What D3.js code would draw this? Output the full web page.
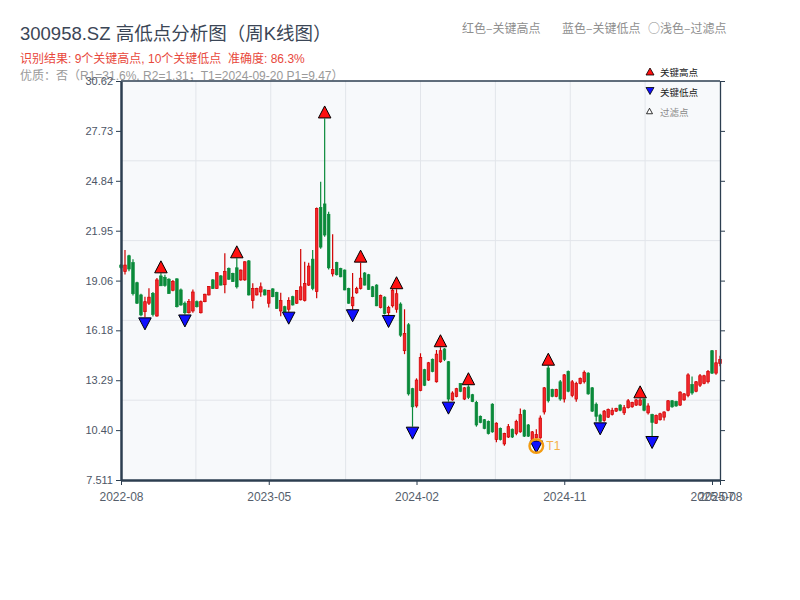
<!DOCTYPE html>
<html><head><meta charset="utf-8">
<script src="https://cdn.jsdelivr.net/npm/d3@7"></script>
<style>
html,body{margin:0;padding:0;background:#fff;}
svg{display:block;font-family:"Liberation Sans","Noto Sans CJK SC",sans-serif;}
text{white-space:pre;}
</style></head>
<body><svg id="c" width="800" height="600"></svg>
<script>
// ---- data ----
const opens = [19.96,19.58,20.50,20.10,18.94,18.23,17.26,17.75,18.32,17.01,19.33,19.25,19.14,18.50,19.16,18.52,17.75,17.20,17.30,17.84,17.20,17.84,18.23,19.10,18.61,19.33,18.82,19.77,19.48,19.80,19.10,19.10,20.20,17.90,18.23,18.40,18.52,17.75,18.58,18.38,17.30,17.55,17.40,18.13,17.75,17.95,17.90,18.80,20.30,18.42,23.30,23.50,22.90,19.45,20.10,19.76,19.67,18.60,17.60,18.35,18.60,19.50,19.40,18.70,18.80,17.50,18.10,17.20,17.60,17.40,17.70,15.00,16.50,12.80,11.80,12.70,13.90,13.30,14.50,13.20,14.36,15.10,14.36,12.15,12.35,13.10,12.20,12.90,12.45,12.00,11.20,11.00,10.90,11.90,9.85,10.50,9.60,10.00,10.45,10.20,10.30,11.55,10.70,9.85,9.95,9.95,11.45,14.00,12.75,12.35,13.20,12.20,13.80,12.40,12.20,13.10,13.20,13.70,12.85,11.90,11.27,10.95,11.15,11.30,11.50,11.85,11.40,11.70,11.75,11.85,11.85,12.20,11.40,11.30,10.80,11.00,11.15,11.55,12.10,12.05,11.85,12.15,12.40,13.05,12.65,13.00,13.10,13.20,15.00,13.70,14.25];
const highs = [20.02,20.83,20.55,20.30,19.00,18.30,18.13,18.61,18.40,19.21,19.48,19.40,19.20,19.10,19.20,18.60,17.85,18.00,18.55,17.90,17.90,18.30,18.75,19.15,19.55,19.38,20.64,19.82,19.52,20.35,19.70,20.18,20.25,18.90,18.65,18.95,18.56,18.52,18.62,18.42,18.36,17.60,18.10,18.18,18.52,20.89,20.15,20.10,20.83,23.30,24.79,28.45,23.05,21.74,20.15,19.80,19.70,18.65,19.50,18.70,20.10,19.55,19.45,18.75,18.85,18.25,18.15,17.60,18.58,18.56,17.80,17.40,16.60,12.85,13.40,14.85,13.95,14.35,14.55,15.04,15.20,15.15,14.40,12.65,12.85,13.12,12.90,13.00,12.50,12.10,11.25,11.05,10.95,11.95,10.85,10.55,10.25,10.75,10.50,11.00,11.65,11.60,10.75,10.35,10.45,11.25,12.90,14.13,12.80,12.80,13.30,13.65,13.85,13.30,13.20,13.45,13.85,13.75,12.90,12.00,11.35,11.57,11.65,11.70,11.70,11.90,11.86,12.20,12.05,12.20,12.24,12.23,11.95,11.35,11.30,11.40,11.50,12.15,12.15,12.10,12.65,12.55,13.70,13.50,13.25,13.65,13.60,13.88,15.04,15.04,14.70];
const lows = [19.75,19.42,19.60,18.20,17.70,17.00,16.93,17.65,16.98,16.96,18.75,18.70,18.28,18.45,17.50,17.60,17.10,17.15,17.20,17.50,17.15,17.80,18.20,18.58,18.58,18.78,18.32,19.10,18.98,18.60,19.05,19.05,18.20,17.45,18.20,18.13,18.20,17.50,18.10,17.42,17.00,17.22,17.26,17.62,17.70,17.90,17.85,18.75,18.50,18.04,20.90,21.60,19.70,19.30,19.35,19.25,18.50,17.72,17.40,18.30,18.55,18.78,18.52,18.10,17.58,17.45,17.10,17.07,17.50,17.20,15.80,14.80,12.40,10.60,11.70,12.65,12.95,13.25,13.75,13.15,14.30,14.40,12.05,12.10,12.30,12.60,12.14,12.20,12.02,10.60,10.80,10.45,10.15,10.25,9.70,9.80,9.50,9.95,9.95,10.10,10.25,10.00,10.00,9.75,9.80,9.90,11.30,12.00,12.30,12.30,12.10,12.00,12.60,12.30,12.05,13.05,13.10,12.45,11.45,10.90,10.85,10.88,11.10,11.25,11.45,11.50,11.28,11.65,11.70,11.80,11.80,11.50,11.30,10.06,10.75,10.95,10.95,11.50,11.70,11.75,11.80,12.10,12.30,12.45,12.60,12.90,13.05,13.10,13.65,13.60,14.10];
const closes = [19.81,19.96,19.73,18.30,17.75,17.07,17.84,18.10,17.10,19.10,18.76,18.78,18.32,19.00,17.55,17.65,17.20,17.85,18.40,17.55,17.84,18.27,18.71,18.61,19.52,18.80,19.58,19.14,19.00,18.70,19.67,20.15,18.23,18.60,18.61,18.70,18.23,18.50,18.13,17.45,17.90,17.26,17.90,17.65,18.48,18.70,18.90,19.90,18.60,23.24,21.00,21.70,19.80,19.70,19.40,19.28,18.52,17.75,18.10,18.60,19.20,18.80,18.55,18.13,17.60,18.20,17.15,17.50,18.50,18.30,15.90,16.00,12.50,11.75,13.30,14.60,13.00,14.30,13.80,14.80,15.00,14.50,12.20,12.55,12.80,12.65,12.85,12.30,12.05,10.70,10.85,10.50,10.20,10.30,10.80,9.85,10.20,10.60,10.00,10.90,11.30,10.05,10.05,10.30,10.15,11.10,12.85,12.10,12.35,12.75,12.20,13.60,12.65,13.20,13.10,13.40,13.75,12.50,11.50,11.20,10.90,11.50,11.60,11.55,11.65,11.55,11.70,12.10,12.00,12.15,12.15,11.55,11.80,10.85,11.25,11.35,11.45,12.10,11.75,11.80,12.60,12.50,13.60,12.55,13.20,13.55,13.55,13.80,13.70,14.30,14.50];
const keyHighIdx = [10,29,51,60,69,80,87,107,130];
const keyLowIdx  = [6,16,42,58,67,73,82,104,120,133];
const t1Idx = 104;
const xTickIdx = [0,37,74,111,148,150];
const xTickLabels = ["2022-08","2023-05","2024-02","2024-11","2025-07","2025-08"];
const yTickValues = [7.511,10.40,13.29,16.18,19.06,21.95,24.84,27.73,30.62];
const yTickLabels = ["7.511","10.40","13.29","16.18","19.06","21.95","24.84","27.73","30.62"];

const candles = opens.map((o,i)=>({i, o, h:highs[i], l:lows[i], c:closes[i]}));

// ---- layout ----
const svg = d3.select("#c");
const L = 121, R = 720, T = 81, B = 480;
const x = d3.scaleLinear().domain([0, candles.length-1]).range([L, R]);
const y = d3.scaleLinear().domain([yTickValues[0], yTickValues[yTickValues.length-1]]).range([B, T]);

// header texts (drawn first; plot overlays them)
svg.append("text").attr("x",20).attr("y",40).attr("font-size",18.5).attr("fill","#3b4656")
  .text("300958.SZ 高低点分析图（周K线图）");
svg.append("text").attr("x",20).attr("y",63).attr("font-size",12).attr("fill","#e8483c")
  .text("识别结果: 9个关键高点, 10个关键低点  准确度: 86.3%");
svg.append("text").attr("x",20).attr("y",80).attr("font-size",12).attr("fill","#9a9a9a")
  .text("优质：否（R1=31.6%, R2=1.31；T1=2024-09-20 P1=9.47）");
const hdr = [["红色–关键高点",462],["蓝色–关键低点",562],["○浅色–过滤点",648]];
hdr.forEach(([t,xx])=>svg.append("text").attr("x",xx).attr("y",33).attr("font-size",12)
  .attr("font-family","Noto Sans CJK SC, sans-serif").attr("fill","#8e8e8e").text(t));

// plot background
svg.append("rect").attr("x",L).attr("y",T).attr("width",R-L).attr("height",B-T).attr("fill","#f7f9fb");

// grid
const g = svg.append("g");
d3.range(1,5).forEach(k=>{
  const yy = T + k*(B-T)/5;
  g.append("line").attr("x1",L).attr("x2",R).attr("y1",yy).attr("y2",yy).attr("stroke","#e2e5ea").attr("stroke-width",1);
});
d3.range(1,8).forEach(k=>{
  const xx = L + k*(R-L)/8;
  g.append("line").attr("x1",xx).attr("x2",xx).attr("y1",T).attr("y2",B).attr("stroke","#e2e5ea").attr("stroke-width",1);
});

// candles
const upStroke = "#d00000", upFill = "#f2262b", down = "#0a8a3a";
const bw = 2.6;
const cg = svg.append("g");
cg.selectAll("line.w").data(candles).join("line")
  .attr("x1",d=>x(d.i)).attr("x2",d=>x(d.i))
  .attr("y1",d=>y(d.h)).attr("y2",d=>y(d.l))
  .attr("stroke",d=>d.c>=d.o?upStroke:down).attr("stroke-width",1.2);
cg.selectAll("rect.b").data(candles).join("rect")
  .attr("x",d=>x(d.i)-bw/2).attr("width",bw)
  .attr("y",d=>y(Math.max(d.o,d.c)))
  .attr("height",d=>Math.max(1,Math.abs(y(d.o)-y(d.c))))
  .attr("fill",d=>d.c>=d.o?upFill:down)
  .attr("stroke",d=>d.c>=d.o?upStroke:down).attr("stroke-width",0.7);

// markers
const tri = (cx, cy, w, h, dir)=> dir>0
  ? `M${cx},${cy-h/2}L${cx+w/2},${cy+h/2}L${cx-w/2},${cy+h/2}Z`
  : `M${cx-w/2},${cy-h/2}L${cx+w/2},${cy-h/2}L${cx},${cy+h/2}Z`;
const mg = svg.append("g");
keyHighIdx.forEach(i=>{
  const cx = x(i), cy = y(highs[i]) - 6.5;
  mg.append("path").attr("d",tri(cx,cy,12.5,12,1)).attr("fill","#ff1010").attr("stroke","#000").attr("stroke-width",1);
});
keyLowIdx.forEach(i=>{
  const cx = x(i), cy = y(lows[i]) + 6.5;
  mg.append("path").attr("d",tri(cx,cy,12.5,12,-1)).attr("fill","#1010ff").attr("stroke","#000").attr("stroke-width",1);
});
// T1 ring
{
  const cx = x(t1Idx), cy = y(lows[t1Idx]) + 5.5;
  mg.append("circle").attr("cx",cx).attr("cy",cy).attr("r",6.8).attr("fill","none").attr("stroke","#f39c12").attr("stroke-width",2.4);
  mg.append("text").attr("x",cx+10).attr("y",cy+4.5).attr("font-size",12).attr("fill","#f5b04a").text("T1");
}

// axes
const yAxisL = d3.axisLeft(y).tickValues(yTickValues).tickFormat((d,i)=>yTickLabels[i]).tickSize(5).tickSizeOuter(0);
const ga = svg.append("g").attr("transform",`translate(${L},0)`).call(yAxisL);
ga.select(".domain").attr("stroke","#2c3e50").attr("stroke-width",2.5);
ga.selectAll(".tick line").attr("stroke","#2c3e50");
ga.selectAll(".tick text").attr("fill","#4d5666").attr("font-size",11).attr("font-family","Liberation Sans, sans-serif");

const yAxisR = d3.axisRight(y).tickValues(yTickValues).tickFormat("").tickSize(5).tickSizeOuter(0);
const gr = svg.append("g").attr("transform",`translate(${R},0)`).call(yAxisR);
gr.select(".domain").attr("stroke","#2c3e50").attr("stroke-width",1.3);
gr.selectAll(".tick line").attr("stroke","#2c3e50");

svg.append("line").attr("x1",L).attr("x2",R).attr("y1",T).attr("y2",T).attr("stroke","#2c3e50").attr("stroke-width",1.3);

const xAxis = d3.axisBottom(x).tickValues(xTickIdx).tickFormat((d,i)=>xTickLabels[i]).tickSize(5).tickSizeOuter(0);
const gx = svg.append("g").attr("transform",`translate(0,${B})`).call(xAxis);
gx.select(".domain").attr("stroke","#2c3e50").attr("stroke-width",2.5);
gx.selectAll(".tick line").attr("stroke","#2c3e50");
gx.selectAll(".tick text").attr("fill","#555e6b").attr("font-size",12).attr("dy","1.1em").attr("font-family","Liberation Sans, sans-serif");

// legend
const lg = svg.append("g");
lg.append("path").attr("d",tri(650,71.5,8,7,1)).attr("fill","#ff1010").attr("stroke","#000").attr("stroke-width",0.8);
lg.append("text").attr("x",660).attr("y",75.5).attr("font-size",9.5).attr("fill","#222").text("关键高点");
lg.append("path").attr("d",tri(650,91,8,7,-1)).attr("fill","#1010ff").attr("stroke","#000").attr("stroke-width",0.8);
lg.append("text").attr("x",660).attr("y",95.5).attr("font-size",9.5).attr("fill","#222").text("关键低点");
lg.append("path").attr("d",tri(649.5,111,6,5.5,1)).attr("fill","#fff").attr("stroke","#000").attr("stroke-width",0.8);
lg.append("text").attr("x",660).attr("y",115.5).attr("font-size",9.5).attr("fill","#8a8a8a").text("过滤点");
</script></body></html>
